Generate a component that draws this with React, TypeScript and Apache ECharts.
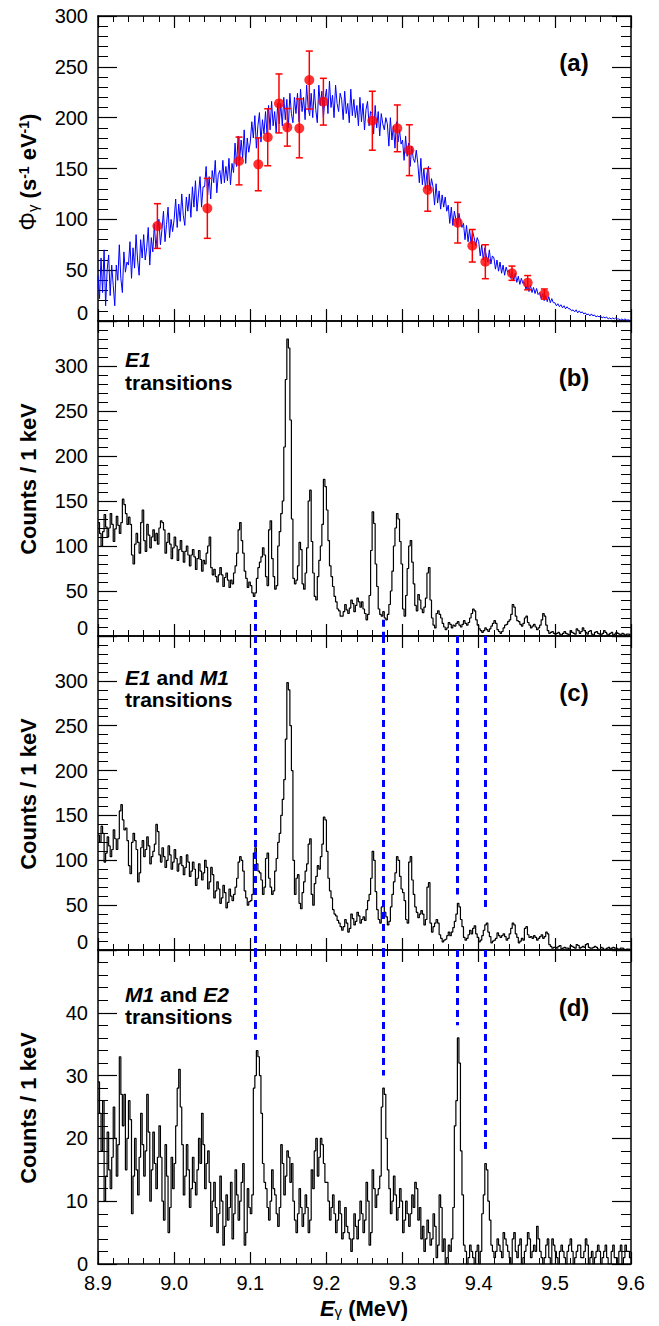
import React, { useEffect, useRef } from "react";
import * as echarts from "echarts";

const FONT = "'Liberation Sans', Arial, Helvetica, sans-serif";

// Energy binning (MeV): bin left edges start at 8.900, 2 keV per value
const BIN0 = 8.9;
const BINW = 0.002;
const XMIN = 8.9;
const XMAX = 9.6;

// Panel (a): photon flux (blue), s^-1 eV^-1
const fluxA = [
  45, 22, 62, 28, 70, 15, 50, 65, 25, 55,
  35, 15, 55, 40, 75, 42, 28, 68, 48, 58,
  55, 78, 42, 72, 52, 85, 60, 45, 80, 62,
  85, 60, 72, 92, 55, 82, 68, 95, 72, 86,
  100, 75, 90, 108, 78, 95, 112, 82, 100, 88,
  100, 120, 92, 115, 98, 125, 104, 94, 122, 108,
  125, 102, 132, 112, 138, 108, 125, 142, 112, 132,
  132, 152, 124, 142, 120, 148, 136, 158, 126, 144,
  148, 135, 158, 136, 152, 138, 160, 134, 155, 146,
  175, 152, 182, 158, 178, 160, 188, 155, 180, 166,
  176, 196, 180, 202, 170, 192, 205, 176, 198, 184,
  206, 184, 212, 188, 216, 192, 206, 185, 214, 194,
  214, 192, 220, 198, 218, 190, 224, 204, 195, 220,
  204, 224, 196, 228, 206, 220, 198, 232, 210, 202,
  224, 200, 228, 208, 195, 232, 212, 226, 200, 218,
  228, 204, 236, 210, 222, 200, 232, 214, 206, 224,
  218, 198, 226, 204, 214, 195, 228, 202, 218, 200,
  212, 192, 220, 196, 214, 188, 208, 216, 192, 206,
  204, 184, 212, 190, 206, 182, 204, 194, 188, 200,
  194, 172, 200, 178, 192, 170, 196, 176, 188, 174,
  178, 158, 182, 162, 175, 152, 172, 160, 156, 168,
  155, 136, 160, 134, 150, 130, 145, 152, 128, 140,
  132, 114, 135, 116, 128, 110, 124, 112, 122, 108,
  114, 96, 112, 94, 108, 100, 92, 106, 98, 92,
  96, 80, 94, 78, 90, 76, 88, 82, 74, 82,
  78, 64, 75, 60, 72, 64, 58, 70, 56, 64,
  62, 51, 60, 49, 58, 47, 55, 45, 53, 48,
  50, 42, 48, 40, 47, 38, 44, 36, 42, 37,
  38, 31, 36, 29, 35, 28, 33, 27, 32, 26,
  28, 22, 27, 20, 25, 19, 24, 18, 22, 18,
  18, 15, 17, 14, 16, 13, 15, 12, 14, 12,
  12, 10, 11, 9, 11, 8, 10, 8, 9, 7,
  8, 6, 7, 5, 7, 5, 6, 4, 5, 4,
  5, 3, 4, 3, 4, 2, 3, 2, 3, 2,
  3, 2, 2, 1, 2, 1, 2, 1, 1, 1,
];

// Panel (a): measured flux points (red) with errors
const redE = [8.978, 9.0436, 9.0852, 9.1105, 9.1229, 9.1377, 9.1486, 9.1644, 9.1775, 9.196,
  9.2603, 9.2931, 9.3089, 9.333, 9.3724, 9.3916, 9.4087, 9.4437, 9.4643, 9.4862];
const redFlux = [93.4, 110.8, 157.4, 154.1, 180.7, 214, 190.5, 189.5, 237, 215.7,
  197, 189.5, 168, 129, 96.7, 74, 58.3, 47, 37.7, 26.5];
const redErr = [22, 29.5, 23.5, 26, 28, 29, 18.5, 29, 28.5, 23,
  29, 23, 25, 21, 20, 16, 16.7, 7, 7, 5];

// Panel (b): E1 transitions
const countsB = [
  126, 114, 100, 116, 135, 121, 110, 120, 136, 124, 105, 119, 133, 123, 114, 126, 152, 146, 136, 124,
  132, 124, 90, 80, 102, 114, 104, 92, 126, 140, 106, 94, 124, 112, 98, 110, 118, 106, 114, 102,
  120, 128, 126, 118, 92, 104, 114, 102, 86, 98, 110, 100, 84, 96, 106, 94, 82, 94, 100, 90,
  78, 90, 96, 88, 74, 86, 95, 85, 72, 84, 80, 92, 100, 110, 76, 68, 74, 66, 60, 68,
  76, 68, 55, 65, 70, 62, 54, 62, 58, 70, 78, 92, 118, 126, 106, 92, 72, 64, 54, 60,
  56, 48, 44, 48, 64, 76, 82, 88, 98, 90, 66, 56, 118, 128, 86, 66, 52, 56, 100, 116,
  136, 150, 210, 285, 330, 320, 240, 130, 64, 58, 62, 78, 104, 96, 58, 52, 70, 98, 150, 162,
  105, 70, 44, 40, 66, 84, 100, 124, 174, 166, 140, 106, 78, 66, 55, 44, 38, 30, 28, 22,
  22, 27, 35, 29, 25, 31, 40, 36, 27, 34, 42, 38, 32, 38, 30, 25, 18, 24, 45, 95,
  138, 125, 80, 55, 30, 24, 22, 27, 20, 18, 24, 35, 50, 72, 100, 120, 136, 130, 105, 80,
  30, 22, 45, 75, 100, 106, 82, 58, 34, 28, 46, 40, 30, 26, 32, 42, 70, 76, 40, 20,
  12, 9, 25, 28, 24, 20, 14, 10, 7, 9, 15, 13, 9, 12, 11, 14, 16, 12, 10, 13,
  17, 14, 12, 15, 20, 25, 30, 28, 18, 12, 8, 6, 4, 6, 9, 7, 5, 8, 11, 14,
  17, 14, 7, 5, 3, 5, 9, 12, 13, 16, 18, 24, 35, 32, 22, 17, 16, 13, 11, 14,
  20, 22, 15, 12, 9, 11, 13, 10, 7, 9, 12, 18, 25, 22, 12, 6, 3, 4, 5, 3,
  2, 3, 4, 2, 1, 3, 5, 3, 2, 1, 6, 4, 3, 2, 8, 6, 3, 5, 9, 6,
  4, 2, 5, 6, 2, 1, 4, 5, 3, 2, 1, 3, 6, 4, 2, 1, 3, 4, 1, 2,
  4, 3, 2, 1, 3, 2, 1, 2, 2, 1,
];

// Panel (c): E1 and M1 transitions
const countsC = [
  128, 120, 138, 130, 98, 108, 126, 116, 104, 112, 134, 124, 112, 124, 155, 162, 145, 134, 136, 122,
  94, 85, 120, 130, 122, 112, 76, 86, 114, 122, 104, 112, 126, 116, 96, 104, 110, 118, 140, 132,
  106, 98, 114, 104, 92, 100, 116, 106, 90, 98, 112, 102, 88, 96, 104, 94, 84, 92, 106, 98,
  82, 88, 98, 90, 72, 80, 96, 88, 78, 86, 100, 92, 68, 76, 92, 84, 58, 66, 76, 68,
  52, 58, 72, 64, 47, 53, 68, 60, 55, 62, 70, 80, 98, 104, 100, 88, 66, 58, 50, 54,
  55, 62, 108, 114, 96, 88, 86, 78, 62, 70, 102, 108, 80, 70, 62, 66, 88, 102, 120, 130,
  150, 168, 190, 235, 298, 290, 250, 200, 100, 62, 80, 84, 52, 46, 64, 76, 88, 96, 118, 124,
  62, 50, 74, 82, 94, 90, 104, 118, 148, 145, 110, 80, 66, 58, 45, 40, 38, 33, 30, 26,
  22, 26, 34, 30, 20, 24, 40, 35, 28, 32, 42, 38, 30, 34, 37, 33, 45, 55, 62, 80,
  110, 100, 65, 45, 34, 30, 48, 54, 42, 37, 28, 32, 48, 62, 76, 86, 104, 100, 82, 68,
  64, 55, 34, 30, 98, 104, 78, 62, 48, 42, 36, 40, 44, 40, 28, 34, 70, 75, 30, 20,
  26, 30, 34, 30, 17, 13, 9, 11, 12, 16, 20, 16, 20, 25, 32, 40, 52, 48, 34, 26,
  14, 11, 13, 17, 22, 18, 24, 27, 18, 14, 9, 11, 16, 22, 28, 30, 20, 15, 8, 10,
  11, 13, 19, 16, 14, 16, 18, 15, 11, 13, 18, 24, 30, 28, 18, 14, 8, 10, 13, 11,
  24, 26, 17, 14, 15, 13, 16, 14, 11, 13, 15, 17, 13, 15, 20, 18, 6, 4, 2, 3,
  3, 2, 4, 5, 1, 2, 3, 2, 2, 1, 5, 4, 3, 2, 6, 5, 2, 3, 4, 3,
  6, 7, 3, 2, 2, 3, 4, 3, 1, 0, 3, 2, 0, 1, 2, 3, 1, 2, 3, 2,
  2, 1, 1, 2, 2, 1, 0, 1, 1, 0,
];

// Panel (d): M1 and E2 transitions
const countsD = [
  29, 24, 18, 26, 10, 14, 21, 15, 12, 17, 25, 20, 14, 19, 33, 27, 22, 27, 15, 20,
  26, 23, 8, 14, 20, 15, 11, 17, 24, 19, 14, 18, 27, 21, 10, 15, 21, 16, 12, 17,
  22, 17, 10, 7, 19, 14, 5, 9, 17, 12, 16, 22, 28, 31, 25, 19, 11, 14, 19, 15,
  9, 12, 17, 13, 11, 15, 20, 16, 24, 19, 12, 16, 18, 13, 6, 10, 13, 9, 5, 8,
  14, 10, 3, 6, 11, 7, 9, 13, 4, 8, 15, 11, 7, 10, 13, 16, 3, 5, 12, 9,
  8, 11, 28, 30, 34, 33, 30, 24, 16, 13, 12, 9, 7, 10, 15, 12, 11, 8, 6, 9,
  19, 16, 11, 14, 18, 17, 13, 16, 10, 7, 5, 8, 12, 9, 6, 8, 11, 9, 5, 7,
  15, 12, 18, 20, 14, 17, 20, 19, 16, 13, 13, 10, 7, 9, 11, 8, 5, 7, 10, 8,
  4, 5, 9, 6, 5, 4, 2, 4, 8, 6, 4, 7, 10, 8, 5, 7, 13, 10, 3, 5,
  15, 12, 9, 11, 12, 14, 25, 28, 27, 20, 15, 12, 8, 10, 14, 11, 7, 9, 12, 10,
  5, 7, 10, 8, 6, 8, 11, 9, 13, 12, 7, 9, 4, 6, 2, 4, 7, 5, 3, 4,
  8, 6, 1, 3, 11, 9, 2, 4, 0, 1, 3, 2, 4, 9, 22, 26, 36, 32, 18, 11,
  3, 2, 0, 1, 3, 2, 1, 0, 2, 3, 0, 2, 8, 11, 16, 15, 10, 7, 3, 2,
  1, 2, 4, 3, 2, 1, 5, 4, 3, 2, 1, 0, 4, 5, 2, 1, 3, 4, 0, 1,
  2, 3, 5, 4, 1, 2, 3, 2, 6, 4, 2, 1, 0, 1, 3, 4, 1, 0, 4, 3,
  2, 1, 0, 2, 3, 2, 1, 0, 2, 3, 4, 2, 0, 1, 2, 3, 3, 1, 1, 2,
  4, 3, 0, 1, 2, 0, 1, 2, 3, 2, 0, 1, 2, 3, 1, 0, 0, 2, 3, 1,
  1, 0, 2, 3, 0, 1, 3, 2, 2, 1,
];

// Dashed guide lines: [energy, y from, y to] in each panel's units
const dashB = [[9.106, 40, 0], [9.275, 18, 0]];
const dashC = [[9.106, 350, 0], [9.275, 350, 0], [9.372, 350, 62], [9.409, 350, 47]];
const dashD = [[9.106, 50, 35.7], [9.275, 50, 30], [9.372, 50, 38], [9.409, 50, 18]];

// Axis ranges
const yMaxes = [300, 350, 350, 50];
const yIntervals = [50, 50, 50, 10];
const xTickInterval = 0.1;

function hist(counts: number[]) {
  const pts: number[][] = counts.map((c, i) => [+(BIN0 + i * BINW).toFixed(3), c]);
  pts.push([XMAX, counts[counts.length - 1]]);
  return pts;
}

function dashData(d: number[][]) {
  return d.map(([e, y1, y2]) => [{ coord: [e, y1] }, { coord: [e, y2] }]);
}

export default function App() {
  const ref = useRef<HTMLDivElement>(null);
  useEffect(() => {
    if (!ref.current) return;
    const chart = echarts.init(ref.current, null, { renderer: "svg" });

    const grids = [
      { left: 98, top: 16, width: 533, height: 305 },
      { left: 98, top: 321, width: 533, height: 315 },
      { left: 98, top: 636, width: 533, height: 314 },
      { left: 98, top: 950, width: 533, height: 314 },
    ];

    const axisLine = { show: true, onZero: false, lineStyle: { color: "#000", width: 1.5 } };

    const xAxes: any[] = [];
    for (let g = 0; g < 4; g++) {
      for (const pos of ["bottom", "top"]) {
        const showLabel = g === 3 && pos === "bottom";
        xAxes.push({
          type: "value",
          gridIndex: g,
          position: pos,
          min: XMIN,
          max: XMAX,
          interval: xTickInterval,
          axisLine,
          axisTick: { show: true, inside: true, length: 12, lineStyle: { color: "#000", width: 1.2 } },
          minorTick: { show: true, splitNumber: 5, length: 6, lineStyle: { color: "#000", width: 1 } },
          splitLine: { show: false },
          minorSplitLine: { show: false },
          axisLabel: {
            show: showLabel,
            margin: 9,
            fontSize: 20,
            fontFamily: FONT,
            color: "#000",
            formatter: (v: number) => v.toFixed(1),
          },
        });
      }
    }

    const yAxes: any[] = [];
    for (let g = 0; g < 4; g++) {
      for (const pos of ["left", "right"]) {
        const max = yMaxes[g];
        const shiftZero = g < 3;
        yAxes.push({
          type: "value",
          gridIndex: g,
          position: pos,
          min: 0,
          max,
          interval: yIntervals[g],
          axisLine,
          axisTick: { show: true, inside: true, length: 19, lineStyle: { color: "#000", width: 1.2 } },
          minorTick: { show: true, splitNumber: 5, length: 10, lineStyle: { color: "#000", width: 1 } },
          splitLine: { show: false },
          minorSplitLine: { show: false },
          axisLabel: {
            show: pos === "left",
            margin: 10,
            fontSize: 20,
            fontFamily: FONT,
            color: "#000",
            formatter: (v: number) => {
              if (g > 0 && v === max) return "";
              if (v === 0 && shiftZero) return "{z|0}";
              return String(v);
            },
            rich: {
              z: { fontSize: 20, fontFamily: FONT, color: "#000", padding: [0, 0, 16, 0] },
            },
          },
        });
      }
    }

    const markLineStyle = (d: number[][]) => ({
      silent: true,
      symbol: ["none", "none"],
      label: { show: false },
      lineStyle: { color: "#0000ff", width: 3, type: [7, 5] },
      data: dashData(d),
    });

    const histSeries = (counts: number[], axis: number, dash: number[][]) => ({
      type: "line",
      xAxisIndex: axis,
      yAxisIndex: axis,
      data: hist(counts),
      step: "end",
      symbol: "none",
      silent: true,
      lineStyle: { color: "#000", width: 1.2 },
      markLine: markLineStyle(dash),
    });

    const series: any[] = [
      {
        type: "line",
        xAxisIndex: 0,
        yAxisIndex: 0,
        data: fluxA.map((c, i) => [+(BIN0 + i * BINW).toFixed(3), c]),
        symbol: "none",
        silent: true,
        lineStyle: { color: "#0000ff", width: 1 },
        z: 2,
      },
      {
        type: "custom",
        xAxisIndex: 0,
        yAxisIndex: 0,
        data: redE.map((e, i) => [e, redFlux[i], redErr[i]]),
        silent: true,
        z: 3,
        renderItem: (params: any, api: any) => {
          const e = api.value(0);
          const v = api.value(1);
          const err = api.value(2);
          const top = api.coord([e, v + err]);
          const bot = api.coord([e, v - err]);
          const w = 3.5;
          const st = { stroke: "#ff0000", lineWidth: 1.5 };
          return {
            type: "group",
            children: [
              { type: "line", shape: { x1: top[0], y1: top[1], x2: bot[0], y2: bot[1] }, style: st },
              { type: "line", shape: { x1: top[0] - w, y1: top[1], x2: top[0] + w, y2: top[1] }, style: st },
              { type: "line", shape: { x1: bot[0] - w, y1: bot[1], x2: bot[0] + w, y2: bot[1] }, style: st },
            ],
          };
        },
      },
      {
        type: "scatter",
        xAxisIndex: 0,
        yAxisIndex: 0,
        data: redE.map((e, i) => [e, redFlux[i]]),
        symbol: "circle",
        symbolSize: 10,
        silent: true,
        itemStyle: { color: "#ff0000" },
        z: 4,
      },
      histSeries(countsB, 2, dashB),
      histSeries(countsC, 4, dashC),
      histSeries(countsD, 6, dashD),
    ];

    const big = { fontSize: 22, fontFamily: FONT, fontWeight: "bold", fill: "#000" };
    const bigI = { ...big, fontStyle: "italic" };
    const supS = { fontSize: 14, fontFamily: FONT, fontWeight: "bold", fill: "#000", verticalAlign: "top" };
    const subS = { fontSize: 15, fontFamily: FONT, fontWeight: "normal", fill: "#000", verticalAlign: "bottom" };
    const lab = { fontSize: 21, fontFamily: FONT, fontWeight: "bold", fill: "#000" };
    const labI = { ...lab, fontStyle: "italic" };

    const countsTitle = (y: number) => ({
      type: "text",
      x: 28,
      y,
      rotation: Math.PI / 2,
      style: { text: "Counts / 1 keV", ...big, align: "center", verticalAlign: "middle" },
    });

    const panelLetter = (t: string, y: number) => ({
      type: "text",
      x: 574,
      y,
      style: { text: t, fontSize: 24, fontFamily: FONT, fontWeight: "bold", fill: "#000", align: "center", verticalAlign: "middle" },
    });

    const richLine = (text: string, y: number) => ({
      type: "text",
      x: 125,
      y,
      style: { text, rich: { i: labI, b: lab }, ...lab, align: "left", verticalAlign: "middle" },
    });

    const graphic: any[] = [
      {
        type: "text",
        x: 28,
        y: 172,
        rotation: Math.PI / 2,
        style: {
          text: "{p|Φ}{s|γ}{b| (s}{u|-1}{b| eV}{u|-1}{b|)}",
          rich: {
            p: { fontSize: 23, fontFamily: FONT, fontWeight: "normal", fill: "#000" },
            s: subS,
            b: big,
            u: supS,
          },
          ...big,
          align: "center",
          verticalAlign: "middle",
        },
      },
      countsTitle(479),
      countsTitle(794),
      countsTitle(1108),
      panelLetter("(a)", 62),
      panelLetter("(b)", 377),
      panelLetter("(c)", 692),
      panelLetter("(d)", 1007),
      richLine("{i|E1}", 359),
      richLine("{b|transitions}", 382),
      richLine("{i|E1}{b| and }{i|M1}", 677),
      richLine("{b|transitions}", 699),
      richLine("{i|M1}{b| and }{i|E2}", 994),
      richLine("{b|transitions}", 1016),
      {
        type: "text",
        x: 364,
        y: 1308,
        style: {
          text: "{e|E}{s|γ}{b| (MeV)}",
          rich: { e: bigI, s: subS, b: big },
          ...big,
          align: "center",
          verticalAlign: "middle",
        },
      },
    ];

    chart.setOption({
      animation: false,
      backgroundColor: "#fff",
      grid: grids,
      xAxis: xAxes,
      yAxis: yAxes,
      series,
      graphic,
    });

    return () => chart.dispose();
  }, []);

  return (
    <div
      ref={ref}
      style={{ position: "absolute", left: 0, top: 0, width: 659, height: 1326 }}
    />
  );
}
